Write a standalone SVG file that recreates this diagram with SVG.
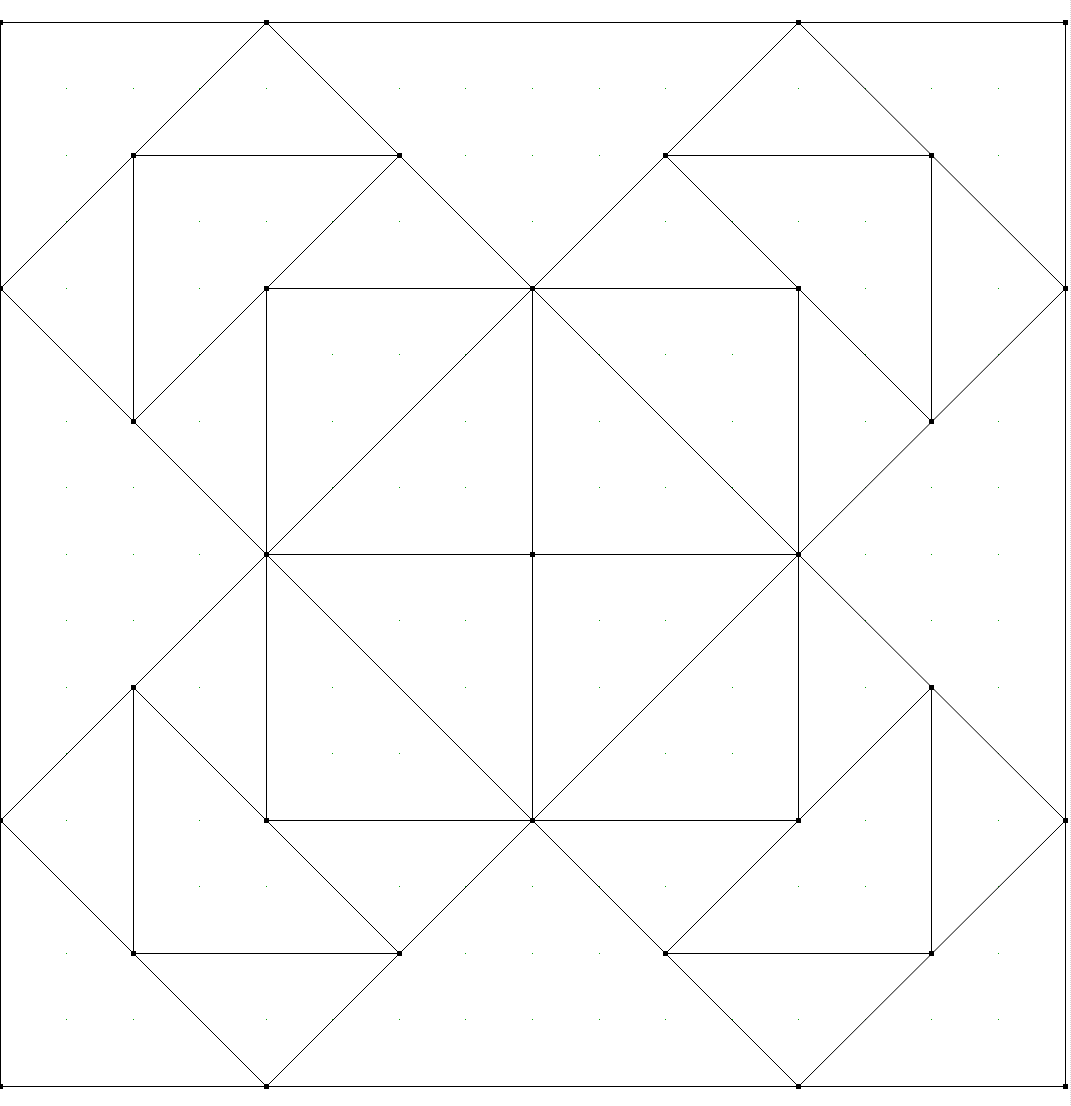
<svg xmlns="http://www.w3.org/2000/svg" xmlns:xlink="http://www.w3.org/1999/xlink" width="1071" height="1106" viewBox="0 0 1071 1106">
<style>
.ln{stroke:#000;stroke-width:1;fill:none}
.dot{fill:#00a000}
.v{fill:#000}
</style>
<defs>
<g id="row">
<rect class="dot" x="66" y="0" width="1" height="1"/><rect class="dot" x="133" y="0" width="1" height="1"/><rect class="dot" x="199" y="0" width="1" height="1"/><rect class="dot" x="266" y="0" width="1" height="1"/><rect class="dot" x="332" y="0" width="1" height="1"/><rect class="dot" x="399" y="0" width="1" height="1"/><rect class="dot" x="465" y="0" width="1" height="1"/><rect class="dot" x="532" y="0" width="1" height="1"/><rect class="dot" x="599" y="0" width="1" height="1"/><rect class="dot" x="665" y="0" width="1" height="1"/><rect class="dot" x="732" y="0" width="1" height="1"/><rect class="dot" x="798" y="0" width="1" height="1"/><rect class="dot" x="865" y="0" width="1" height="1"/><rect class="dot" x="931" y="0" width="1" height="1"/><rect class="dot" x="998" y="0" width="1" height="1"/>
</g>
<rect id="vm" x="-2.5" y="-2.5" width="5" height="5" class="v"/>
</defs>
<rect width="1071" height="1106" fill="#fff"/>
<line x1="1070.5" y1="0" x2="1070.5" y2="1106" stroke="#d8d8d8" stroke-width="1" stroke-dasharray="1,1"/>
<g id="grid-dots">
<use xlink:href="#row" y="88"/><use xlink:href="#row" y="155"/><use xlink:href="#row" y="221"/><use xlink:href="#row" y="288"/><use xlink:href="#row" y="354"/><use xlink:href="#row" y="421"/><use xlink:href="#row" y="487"/><use xlink:href="#row" y="554"/><use xlink:href="#row" y="620"/><use xlink:href="#row" y="687"/><use xlink:href="#row" y="753"/><use xlink:href="#row" y="820"/><use xlink:href="#row" y="886"/><use xlink:href="#row" y="953"/><use xlink:href="#row" y="1019"/>
</g>
<g id="connectors" class="ln">
<rect x="0.5" y="22.5" width="1065" height="1064"/>
<line x1="266.5" y1="22.5" x2="0.5" y2="288.5"/>
<line x1="133.5" y1="155.5" x2="399.5" y2="155.5"/>
<line x1="133.5" y1="155.5" x2="133.5" y2="421.5"/>
<line x1="0.5" y1="288.5" x2="266.5" y2="554.5"/>
<line x1="399.5" y1="155.5" x2="133.5" y2="421.5"/>
<line x1="266.5" y1="22.5" x2="532.5" y2="288.5"/>
<line x1="798.5" y1="22.5" x2="532.5" y2="288.5"/>
<line x1="798.5" y1="22.5" x2="1065.5" y2="288.5"/>
<line x1="665.5" y1="155.5" x2="931.5" y2="155.5"/>
<line x1="931.5" y1="155.5" x2="931.5" y2="421.5"/>
<line x1="665.5" y1="155.5" x2="931.5" y2="421.5"/>
<line x1="1065.5" y1="288.5" x2="798.5" y2="554.5"/>
<rect x="266.5" y="288.5" width="532" height="532"/>
<line x1="532.5" y1="288.5" x2="532.5" y2="820.5"/>
<line x1="266.5" y1="554.5" x2="798.5" y2="554.5"/>
<line x1="532.5" y1="288.5" x2="266.5" y2="554.5"/>
<line x1="532.5" y1="288.5" x2="798.5" y2="554.5"/>
<line x1="266.5" y1="554.5" x2="532.5" y2="820.5"/>
<line x1="798.5" y1="554.5" x2="532.5" y2="820.5"/>
<line x1="266.5" y1="554.5" x2="0.5" y2="820.5"/>
<line x1="133.5" y1="687.5" x2="133.5" y2="953.5"/>
<line x1="133.5" y1="687.5" x2="399.5" y2="953.5"/>
<line x1="0.5" y1="820.5" x2="266.5" y2="1086.5"/>
<line x1="133.5" y1="953.5" x2="399.5" y2="953.5"/>
<line x1="266.5" y1="1086.5" x2="532.5" y2="820.5"/>
<line x1="532.5" y1="820.5" x2="798.5" y2="1086.5"/>
<line x1="798.5" y1="554.5" x2="1065.5" y2="820.5"/>
<line x1="931.5" y1="687.5" x2="931.5" y2="953.5"/>
<line x1="931.5" y1="687.5" x2="665.5" y2="953.5"/>
<line x1="1065.5" y1="820.5" x2="798.5" y2="1086.5"/>
<line x1="665.5" y1="953.5" x2="931.5" y2="953.5"/>
</g>
<g id="vertices">
<g id="v-0-0"><use xlink:href="#vm" x="0.5" y="22.5"/></g>
<g id="v-2-0"><use xlink:href="#vm" x="266.5" y="22.5"/></g>
<g id="v-6-0"><use xlink:href="#vm" x="798.5" y="22.5"/></g>
<g id="v-8-0"><use xlink:href="#vm" x="1065.5" y="22.5"/></g>
<g id="v-1-1"><use xlink:href="#vm" x="133.5" y="155.5"/></g>
<g id="v-3-1"><use xlink:href="#vm" x="399.5" y="155.5"/></g>
<g id="v-5-1"><use xlink:href="#vm" x="665.5" y="155.5"/></g>
<g id="v-7-1"><use xlink:href="#vm" x="931.5" y="155.5"/></g>
<g id="v-0-2"><use xlink:href="#vm" x="0.5" y="288.5"/></g>
<g id="v-2-2"><use xlink:href="#vm" x="266.5" y="288.5"/></g>
<g id="v-4-2"><use xlink:href="#vm" x="532.5" y="288.5"/></g>
<g id="v-6-2"><use xlink:href="#vm" x="798.5" y="288.5"/></g>
<g id="v-8-2"><use xlink:href="#vm" x="1065.5" y="288.5"/></g>
<g id="v-1-3"><use xlink:href="#vm" x="133.5" y="421.5"/></g>
<g id="v-7-3"><use xlink:href="#vm" x="931.5" y="421.5"/></g>
<g id="v-2-4"><use xlink:href="#vm" x="266.5" y="554.5"/></g>
<g id="v-4-4"><use xlink:href="#vm" x="532.5" y="554.5"/></g>
<g id="v-6-4"><use xlink:href="#vm" x="798.5" y="554.5"/></g>
<g id="v-1-5"><use xlink:href="#vm" x="133.5" y="687.5"/></g>
<g id="v-7-5"><use xlink:href="#vm" x="931.5" y="687.5"/></g>
<g id="v-0-6"><use xlink:href="#vm" x="0.5" y="820.5"/></g>
<g id="v-2-6"><use xlink:href="#vm" x="266.5" y="820.5"/></g>
<g id="v-4-6"><use xlink:href="#vm" x="532.5" y="820.5"/></g>
<g id="v-6-6"><use xlink:href="#vm" x="798.5" y="820.5"/></g>
<g id="v-8-6"><use xlink:href="#vm" x="1065.5" y="820.5"/></g>
<g id="v-1-7"><use xlink:href="#vm" x="133.5" y="953.5"/></g>
<g id="v-3-7"><use xlink:href="#vm" x="399.5" y="953.5"/></g>
<g id="v-5-7"><use xlink:href="#vm" x="665.5" y="953.5"/></g>
<g id="v-7-7"><use xlink:href="#vm" x="931.5" y="953.5"/></g>
<g id="v-0-8"><use xlink:href="#vm" x="0.5" y="1086.5"/></g>
<g id="v-2-8"><use xlink:href="#vm" x="266.5" y="1086.5"/></g>
<g id="v-6-8"><use xlink:href="#vm" x="798.5" y="1086.5"/></g>
<g id="v-8-8"><use xlink:href="#vm" x="1065.5" y="1086.5"/></g>
</g>
</svg>
